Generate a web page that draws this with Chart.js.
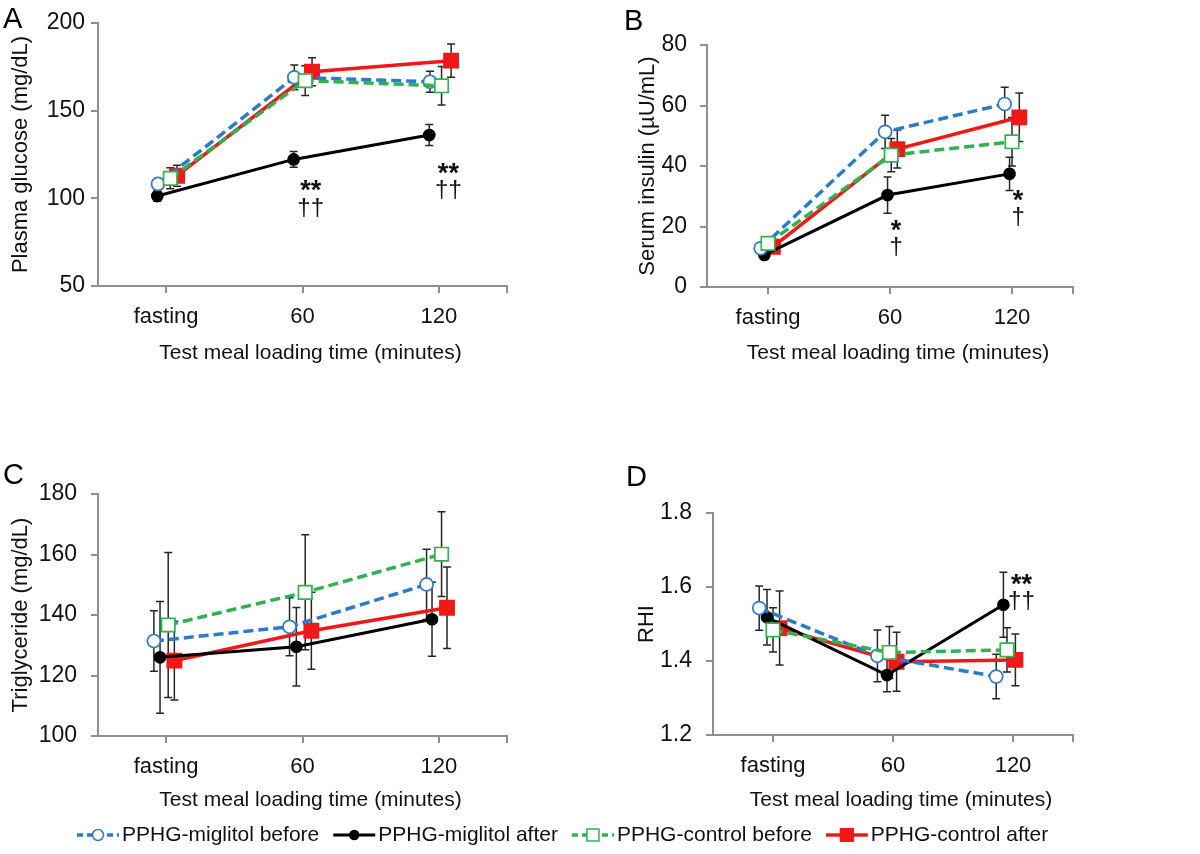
<!DOCTYPE html>
<html>
<head>
<meta charset="utf-8">
<title>PPHG test meal loading</title>
<script src="https://cdn.jsdelivr.net/npm/chart.js@4.4.1/dist/chart.umd.min.js"></script>
<style>
  html, body { margin: 0; padding: 0; background: #fff; }
  #page { position: relative; width: 1200px; height: 854px; overflow: hidden; font-family: "Liberation Sans", Arial, sans-serif; }
  .box { position: absolute; }
  .tag { position: absolute; font-size: 29px; line-height: 1; color: #000; }
  #legend { position: absolute; left: 0; top: 816px; }
</style>
</head>
<body>
<div id="page">
  <div class="box" style="left:0;top:0;width:560px;height:380px"><canvas id="chartA"></canvas></div>
  <div class="box" style="left:560px;top:0;width:640px;height:380px"><canvas id="chartB"></canvas></div>
  <div class="box" style="left:0;top:460px;width:560px;height:394px"><canvas id="chartC"></canvas></div>
  <div class="box" style="left:560px;top:460px;width:640px;height:394px"><canvas id="chartD"></canvas></div>
  <div class="tag" style="left:3px;top:4px">A</div>
  <div class="tag" style="left:624px;top:6px">B</div>
  <div class="tag" style="left:3px;top:460px">C</div>
  <div class="tag" style="left:626px;top:462px">D</div>
  <canvas id="legend" width="1200" height="38"></canvas>
</div>
<script>
const categories = ["fasting", "60", "120"];
const xTitle = "Test meal loading time (minutes)";

// A - plasma glucose (mg/dL)
const glucoseTicks = [50, 100, 150, 200];
const glucoseMigBefore = [108.2, 169.0, 166.5];
const glucoseMigBeforeErr = [3, 7, 6];
const glucoseMigAfter = [101.3, 122.2, 136.1];
const glucoseMigAfterErr = [3, 4.5, 6];
const glucoseCtlBefore = [111.4, 167.1, 164.2];
const glucoseCtlBeforeErr = [6, 8.5, 11];
const glucoseCtlAfter = [112.9, 172.2, 178.5];
const glucoseCtlAfterErr = [6, 8, 9.5];
const glucoseStars = ["", "**", "**"];
const glucoseDaggers = ["", "\u2020\u2020", "\u2020\u2020"];

// B - serum insulin (µU/mL)
const insulinTicks = [0, 20, 40, 60, 80];
const insulinMigBefore = [12.8, 51.3, 60.5];
const insulinMigBeforeErr = [1.5, 5.5, 5.5];
const insulinMigAfter = [10.6, 30.4, 37.4];
const insulinMigAfterErr = [1, 6, 5.5];
const insulinCtlBefore = [14.4, 43.6, 48.0];
const insulinCtlBeforeErr = [1.5, 5.5, 8];
const insulinCtlAfter = [13.3, 45.6, 56.1];
const insulinCtlAfterErr = [1.5, 6.3, 8];
const insulinStars = ["", "*", "*"];
const insulinDaggers = ["", "\u2020", "\u2020"];

// C - triglyceride (mg/dL)
const tgTicks = [100, 120, 140, 160, 180];
const tgMigBefore = [131.4, 136.1, 150.1];
const tgMigBeforeErr = [10, 9.6, 11.6];
const tgMigAfter = [126.0, 129.5, 138.6];
const tgMigAfterErr = [18.5, 13, 12.2];
const tgCtlBefore = [136.7, 147.5, 160.1];
const tgCtlBeforeErr = [24, 19, 14];
const tgCtlAfter = [124.9, 134.8, 142.4];
const tgCtlAfterErr = [13, 12.7, 13.5];
const tgStars = ["", "", ""];
const tgDaggers = ["", "", ""];

// D - RHI
const rhiTicks = [1.2, 1.4, 1.6, 1.8];
const rhiMigBefore = [1.543, 1.414, 1.358];
const rhiMigBeforeErr = [0.06, 0.07, 0.06];
const rhiMigAfter = [1.518, 1.362, 1.552];
const rhiMigAfterErr = [0.075, 0.045, 0.088];
const rhiCtlBefore = [1.484, 1.423, 1.43];
const rhiCtlBeforeErr = [0.06, 0.07, 0.06];
const rhiCtlAfter = [1.489, 1.398, 1.403];
const rhiCtlAfterErr = [0.1, 0.08, 0.07];
const rhiStars = ["", "", "**"];
const rhiDaggers = ["", "", "\u2020\u2020"];

const FONT = '"Liberation Sans", Arial, sans-serif';
const TEXT = "#111";
const AXIS = "#8f8f8f";

const series = [
  { label: "PPHG-miglitol before", color: "#2b7bca", dash: [10, 5], width: 3.5, shape: "circle", fill: "#fff", radius: 6.5, order: 1 },
  { label: "PPHG-miglitol after", color: "#000", dash: [], width: 3, shape: "circle", fill: "#000", radius: 5.5, order: 2 },
  { label: "PPHG-control before", color: "#2eb34f", dash: [10, 5], width: 3.5, shape: "rect", fill: "#fff", radius: 9.5, order: 0 },
  { label: "PPHG-control after", color: "#f21818", dash: [], width: 3.5, shape: "rect", fill: "#f21818", radius: 10, order: 3 },
];

// vertical error bars, drawn under the lines
const errorBars = {
  id: "errorBars",
  beforeDatasetsDraw(chart) {
    const { ctx, scales: { x, y } } = chart;
    ctx.save();
    ctx.strokeStyle = "#262626";
    ctx.lineWidth = 1.5;
    chart.data.datasets.forEach((ds) => {
      ds.data.forEach((pt, j) => {
        const e = ds.errors[j];
        const px = x.getPixelForValue(pt.x);
        const top = y.getPixelForValue(pt.y + e);
        const bot = y.getPixelForValue(pt.y - e);
        ctx.beginPath();
        ctx.moveTo(px, top); ctx.lineTo(px, bot);
        ctx.moveTo(px - 4, top); ctx.lineTo(px + 4, top);
        ctx.moveTo(px - 4, bot); ctx.lineTo(px + 4, bot);
        ctx.stroke();
      });
    });
    ctx.restore();
  },
};

// significance marks (* vs before, † vs control)
const sigMarks = {
  id: "sigMarks",
  afterDatasetsDraw(chart, args, opts) {
    const { ctx, scales: { x, y } } = chart;
    ctx.save();
    ctx.fillStyle = TEXT;
    ctx.textAlign = "center";
    ctx.textBaseline = "middle";
    opts.stars.forEach((star, j) => {
      if (!star) return;
      const px = x.getPixelForValue(j + opts.dx[j]);
      const py = y.getPixelForValue(opts.at[j]);
      ctx.font = "bold 27px " + FONT;
      ctx.fillText(star, px, py - 16);
      ctx.font = "24px " + FONT;
      ctx.fillText(opts.daggers[j], px, py);
    });
    ctx.restore();
  },
};

// x axis title, sitting a little right of the plot centre as in the original
const xAxisTitle = {
  id: "xAxisTitle",
  afterDraw(chart, args, opts) {
    const { ctx, chartArea } = chart;
    ctx.save();
    ctx.fillStyle = TEXT;
    ctx.font = "21px " + FONT;
    ctx.textAlign = "center";
    ctx.textBaseline = "middle";
    ctx.fillText(opts.text, (chartArea.left + chartArea.right) / 2 + 8, chart.height - opts.fromBottom);
    ctx.restore();
  },
};

function buildChart(id, p) {
  const datasets = series.map((s, k) => ({
    label: s.label,
    data: p.values[k].map((v, j) => ({ x: j + p.shift[k][j], y: v })),
    errors: p.errors[k],
    borderColor: s.color,
    borderWidth: s.width,
    borderDash: s.dash,
    pointStyle: s.shape,
    pointRadius: s.radius,
    pointBorderWidth: 1.7,
    pointBorderColor: s.color,
    pointBackgroundColor: s.fill,
    tension: 0,
    fill: false,
    order: s.order,
  }));

  return new Chart(document.getElementById(id), {
    type: "line",
    data: { datasets },
    plugins: [errorBars, sigMarks, xAxisTitle],
    options: {
      responsive: true,
      maintainAspectRatio: false,
      animation: false,
      layout: { padding: { top: p.padTop, right: p.padRight, left: 0, bottom: 0 } },
      plugins: {
        legend: { display: false },
        tooltip: { enabled: false },
        sigMarks: { stars: p.stars, daggers: p.daggers, dx: p.sigDx, at: p.sigAt },
        xAxisTitle: { text: xTitle, fromBottom: p.xTitleFromBottom },
      },
      scales: {
        x: {
          type: "linear",
          min: -0.5,
          max: categories.length - 0.5,
          afterBuildTicks: (sc) => {
            sc.ticks = categories.map((c, i) => ({ value: i })).concat([{ value: categories.length - 0.5 }]);
          },
          afterFit: (sc) => { sc.height = p.xH; },
          ticks: {
            autoSkip: false,
            maxRotation: 0,
            padding: 11,
            color: TEXT,
            font: { family: FONT, size: 22 },
            callback: (v) => categories[v] ?? "",
          },
          grid: { drawOnChartArea: false, tickLength: 7, color: AXIS, lineWidth: 2 },
          border: { color: AXIS, width: 2 },
          title: { display: false },
        },
        y: {
          min: p.ticks[0],
          max: p.ticks[p.ticks.length - 1],
          afterBuildTicks: (sc) => { sc.ticks = p.ticks.map((v) => ({ value: v })); },
          afterFit: (sc) => { sc.width = p.yW; },
          ticks: {
            padding: p.yTickPad,
            color: TEXT,
            font: { family: FONT, size: 23 },
            callback: p.fmt,
          },
          grid: { drawOnChartArea: false, tickLength: 7, color: AXIS, lineWidth: 2 },
          border: { color: AXIS, width: 2 },
          title: { display: true, text: p.yTitle, color: TEXT, font: { family: FONT, size: 22 }, padding: { top: p.yTitlePad, bottom: 0 } },
        },
      },
    },
  });
}

const plain = (v) => String(v);

buildChart("chartA", {
  ticks: glucoseTicks, fmt: plain, yTitle: "Plasma glucose (mg/dL)",
  values: [glucoseMigBefore, glucoseMigAfter, glucoseCtlBefore, glucoseCtlAfter],
  errors: [glucoseMigBeforeErr, glucoseMigAfterErr, glucoseCtlBeforeErr, glucoseCtlAfterErr],
  shift: [[-0.06, -0.06, -0.065], [-0.065, -0.065, -0.07], [0.03, 0.02, 0.02], [0.08, 0.07, 0.09]],
  stars: glucoseStars, daggers: glucoseDaggers, sigDx: [0, 0.06, 0.07], sigAt: [0, 94.5, 104.7],
  padTop: 23, padRight: 53, yW: 98, xH: 94, yTickPad: 6, yTitlePad: 8, xTitleFromBottom: 27,
});

buildChart("chartB", {
  ticks: insulinTicks, fmt: plain, yTitle: "Serum insulin (\u00b5U/mL)",
  values: [insulinMigBefore, insulinMigAfter, insulinCtlBefore, insulinCtlAfter],
  errors: [insulinMigBeforeErr, insulinMigAfterErr, insulinCtlBeforeErr, insulinCtlAfterErr],
  shift: [[-0.06, -0.04, -0.06], [-0.03, -0.02, -0.02], [0, 0.01, 0], [0.04, 0.06, 0.06]],
  stars: insulinStars, daggers: insulinDaggers, sigDx: [0, 0.05, 0.05], sigAt: [0, 13.2, 23.1],
  padTop: 45, padRight: 127, yW: 147, xH: 93, yTickPad: 13, yTitlePad: 75, xTitleFromBottom: 27,
});

buildChart("chartC", {
  ticks: tgTicks, fmt: plain, yTitle: "Triglyceride (mg/dL)",
  values: [tgMigBefore, tgMigAfter, tgCtlBefore, tgCtlAfter],
  errors: [tgMigBeforeErr, tgMigAfterErr, tgCtlBeforeErr, tgCtlAfterErr],
  shift: [[-0.09, -0.095, -0.09], [-0.045, -0.045, -0.05], [0.015, 0.02, 0.02], [0.06, 0.065, 0.06]],
  stars: tgStars, daggers: tgDaggers, sigDx: [0, 0, 0], sigAt: [0, 0, 0],
  padTop: 34, padRight: 53, yW: 98, xH: 118, yTickPad: 14, yTitlePad: 8, xTitleFromBottom: 54,
});

buildChart("chartD", {
  ticks: rhiTicks, fmt: (v) => v.toFixed(1), yTitle: "RHI",
  values: [rhiMigBefore, rhiMigAfter, rhiCtlBefore, rhiCtlAfter],
  errors: [rhiMigBeforeErr, rhiMigAfterErr, rhiCtlBeforeErr, rhiCtlAfterErr],
  shift: [[-0.115, -0.13, -0.14], [-0.05, -0.05, -0.08], [0, -0.03, -0.05], [0.055, 0.03, 0.02]],
  stars: rhiStars, daggers: rhiDaggers, sigDx: [0, 0, 0.07], sigAt: [0, 0, 1.56],
  padTop: 53, padRight: 127, yW: 153, xH: 119, yTickPad: 14, yTitlePad: 74, xTitleFromBottom: 54,
});

// shared legend along the bottom
function drawMarker(ctx, s, x, y) {
  ctx.fillStyle = s.fill;
  ctx.strokeStyle = s.color;
  ctx.lineWidth = 1.5;
  ctx.beginPath();
  if (s.shape === "circle") {
    ctx.arc(x, y, s.radius - 1, 0, Math.PI * 2);
  } else {
    const h = (s.radius - 1) * Math.SQRT1_2;
    ctx.rect(x - h, y - h, 2 * h, 2 * h);
  }
  ctx.fill();
  ctx.stroke();
}

function drawLegend() {
  const ctx = document.getElementById("legend").getContext("2d");
  ctx.font = "21px " + FONT;
  ctx.textBaseline = "middle";
  const y = 19;
  let x = 77;
  series.forEach((s) => {
    ctx.save();
    ctx.strokeStyle = s.color;
    ctx.lineWidth = s.width;
    ctx.setLineDash(s.dash.length ? [6, 4] : []);
    ctx.beginPath();
    ctx.moveTo(x, y);
    ctx.lineTo(x + 42, y);
    ctx.stroke();
    ctx.setLineDash([]);
    drawMarker(ctx, s, x + 21, y);
    ctx.restore();
    ctx.fillStyle = TEXT;
    ctx.fillText(s.label, x + 45, y);
    x += 45 + ctx.measureText(s.label).width + 14;
  });
}
drawLegend();
</script>
</body>
</html>
